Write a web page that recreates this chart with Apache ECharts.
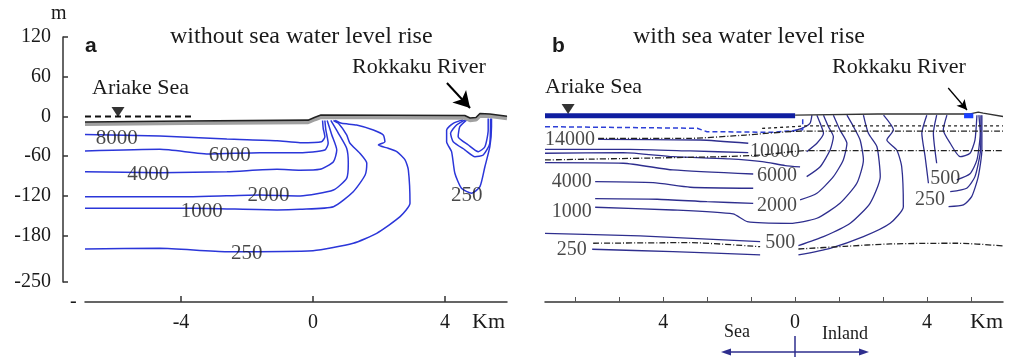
<!DOCTYPE html>
<html><head><meta charset="utf-8">
<script src="https://cdn.jsdelivr.net/npm/echarts@6/dist/echarts.min.js"></script>
<style>html,body{margin:0;padding:0;background:#fff}#c{width:1018px;height:357px}</style>
</head><body><div id="c"></div>
<script>
// ---------- axis ticks ----------
const yTicksA = [120, 60, 0, -60, -120, -180, -250];
const xLabelsA = [-4, 0, 4];
const xLabelsB = [-4, 0, 4];
const xTicksB = [-6.667, -5.333, -4, -2.667, -1.333, 0, 1.333, 2.667, 4, 5.333];

// ---------- panel a : without sea water level rise (km, m) ----------
const aSurface = [[-6.91,-8.3],[-3.82,-6.8],[-0.15,-5.5],[0.06,-1],[0.24,2.3],[4.6,1.5],[4.76,-2.3],[4.94,-1.5],[5.06,4.5],[5.36,3.8],[5.88,0.5]];
const aGround  = [[-6.91,-11.5],[-3.82,-10],[-0.15,-8.7],[0.06,-4.2],[0.24,-0.9],[4.6,-1.7],[4.76,-5.5],[4.94,-4.7],[5.06,1.3],[5.36,0.6],[5.88,-2.7]];
const aSeaLevel = [[-6.91,0],[-3.67,0]];
const a8000 = [[-6.91,-27],[-4.64,-29.4],[-2.61,-34],[-1.09,-36.5],[-0.39,-39.5],[0.26,-38],[0.36,-30.5],[0.31,-17.8],[0.29,-6]];
const a6000 = [[-6.91,-52],[-4.64,-49.5],[-3.12,-56.6],[-1.61,-54.6],[-0.39,-54.6],[0.36,-50.6],[0.46,-40.4],[0.39,-20.4],[0.36,-6]];
const a4000 = [[-6.91,-83.3],[-4.64,-84.8],[-2.61,-83.3],[-1.09,-79.7],[-0.39,-81],[0.21,-79.7],[0.62,-68.2],[0.72,-50.6],[0.57,-27.9],[0.43,-6]];
const a2000 = [[-6.91,-121],[-3.64,-121],[-1.61,-118.5],[-0.39,-120],[0.62,-110.9],[1.02,-93.3],[1.07,-70.6],[1.02,-48],[0.77,-25.4],[0.54,-6]];
const a1000 = [[-6.91,-138.5],[-3.64,-138.5],[-1.09,-141],[-0.39,-140],[0.62,-136.1],[1.22,-113.5],[1.58,-88.3],[1.63,-70.6],[1.42,-55.5],[1.12,-40.4],[1.02,-27.9],[0.77,-10.3],[0.62,-6]];
const a250 = [[-6.91,-200],[-4.64,-198.9],[-2.61,-204],[0,-202.5],[1.22,-191.3],[1.93,-176.3],[2.64,-151.2],[2.94,-131],[2.89,-80.7],[2.79,-65.6],[2.54,-53.1],[2.28,-48],[1.98,-43],[2.18,-38],[2.13,-27.9],[1.83,-20.4],[1.32,-12.8],[0.87,-10.3],[0.67,-6]];
const aBowl250 = [[4.55,-5],[4.25,-10.3],[4.05,-20.4],[4.05,-38],[4.2,-53.1],[4.3,-85.7],[4.5,-108.3],[4.81,-115.9],[5.06,-105.9],[5.21,-75.8],[5.36,-45.6],[5.41,-15.4],[5.41,-3]];
const aBowl2 = [[4.61,-5],[4.35,-12.8],[4.17,-25.4],[4.25,-38],[4.61,-50.6],[4.91,-60.7],[5.16,-58.1],[5.36,-40.4],[5.38,-3]];
const aBowl3 = [[4.66,-5],[4.45,-15.4],[4.40,-30.5],[4.71,-43],[5.01,-53.1],[5.21,-45.6],[5.31,-20.4],[5.31,-3]];
const aLabels = [[-5.95,-32.9,'8000'],[-2.52,-58.1,'6000'],[-4.99,-86.8,'4000'],[-1.35,-119.5,'2000'],[-3.37,-143.7,'1000'],[-2.01,-207.5,'250'],[4.66,-118.5,'250']];
const aTriangle = [[-5.91,6.8]];
const aArrow = [[4.06,50.6],[4.76,12.8]];

// ---------- panel b : with sea water level rise (km, m) ----------
const bSea = [[-7.58,1],[0,1]];
const bSurface = [[0,2],[2.5,3.8],[5.3,3.8],[5.55,6.5],[5.7,5],[6.3,0]];
const bRiver = [[5.12,1],[5.4,1]];
const bBlueDash = [[-7.58,-15.4],[-2.97,-17.8],[-2.67,-22.9],[-0.67,-23.8],[0.15,-20.4],[0.23,-20],[0.23,0]];
const bDotted = [[-1.0,-18],[0.3,-14.3],[6.3,-14.3]];
const bDashDot1 = [[-5.97,-33],[-3.2,-33],[-1.5,-28],[0.2,-22],[6.3,-22]];
const bDashDot2 = [[-7.58,-65.6],[-3.18,-61.6],[-2.27,-60.7],[-1.0,-58],[0.3,-51.6],[6.3,-51.6]];
const bDashDot3 = [[-6.12,-191.3],[-3.18,-190.4],[-1.06,-196.5]];
const bDashDot4 = [[0.10,-200],[1.5,-196],[2.88,-192.4],[4.9,-191.3],[6.3,-195.4]];
const b14000 = [[-5.97,-34.4],[-2.88,-35.5],[-1.42,-40.4]];
const b10000 = [[-7.58,-49.5],[-5.0,-49.5],[-3.18,-52],[-1.42,-54.6]];
const bLine2 = [[-7.58,-55.5],[-5.21,-54.6],[-3.70,-60.7],[-2.0,-64],[-1.0,-68],[-0.3,-74],[0.15,-76]];
const b6000 = [[-7.58,-69.7],[-5.21,-70.6],[-3.70,-80.7],[-1.27,-86.8]];
const b4000 = [[-6.06,-98.4],[-4.30,-99.9],[-3.18,-106.8],[-1.27,-108.3]];
const b2000 = [[-6.06,-124],[-4.18,-124.9],[-2.67,-128.6],[-1.27,-131]];
const b1000 = [[-6.06,-137],[-3.70,-141.1],[-1.88,-147.1],[-1.45,-158.7],[-0.15,-161.2],[0.66,-153.6],[1.36,-131],[1.87,-100.8],[2.07,-65.6],[1.97,-35.5],[1.77,-15.4],[1.57,2]];
const bLine9 = [[-7.58,-176.3],[-4.7,-180.3],[-1.06,-188.9]];
const b250 = [[-6.15,-200.4],[-3.70,-204],[-1.06,-209]];
const bFan0 = [[-0.15,-22.9],[0.2,-17.8],[0.45,-10.3],[0.51,2]];
const bFan1 = [[0.35,-53.1],[0.66,-40.4],[0.86,-25.4],[0.76,-10.3],[0.66,2]];
const bFan2 = [[0.35,-90.8],[0.76,-75.8],[1.06,-50.6],[1.16,-30.5],[1.01,-15.4],[0.86,2]];
const bFan3 = [[0.15,-126],[0.66,-115.9],[1.16,-90.8],[1.46,-65.6],[1.57,-40.4],[1.36,-20.4],[1.16,2]];
const bFan5 = [[0.10,-195],[0.86,-181.4],[1.67,-161.2],[2.27,-131],[2.58,-90.8],[2.48,-45.6],[2.22,-25.4],[2.07,2]];
const bFan6 = [[0.10,-209],[1.06,-198.9],[2.07,-181.4],[2.88,-161.2],[3.28,-136.1],[3.23,-75.8],[3.08,-50.6],[2.78,-35.5],[2.98,-20.4],[2.68,2]];
const bBowl1 = [[3.99,2],[3.84,-25.4],[3.94,-60.7],[4.04,-100.8]];
const bBowl2 = [[4.29,2],[4.19,-25.4],[4.29,-70.6]];
const bBowl3 = [[4.60,2],[4.49,-20.4],[4.70,-40.4],[5.0,-60.7],[5.30,-55.5],[5.45,-35.5],[5.51,2]];
const bBowl4 = [[4.90,-95.8],[5.30,-86.4],[5.51,-65.6],[5.61,-25.4],[5.57,2]];
const bBowl5 = [[4.65,-136.1],[5.10,-133.5],[5.35,-121],[5.55,-90.8],[5.66,-50.6],[5.66,2]];
const bBowl6 = [[4.70,-113.5],[5.20,-108.3],[5.45,-90.8],[5.62,-50],[5.63,2]];
const bLabels = [[-6.82,-35.5,'14000'],[-0.61,-53.1,'10000'],[-0.55,-90,'6000'],[-6.77,-98.4,'4000'],[-0.55,-135,'2000'],[-6.77,-143.7,'1000'],[-0.45,-191.3,'500'],[-6.77,-201.5,'250'],[4.55,-93.3,'500'],[4.09,-125,'250']];
const bTriangle = [[-6.88,11.3]];
const bArrow = [[4.64,43],[5.21,9.8]];

// ---------- build ----------
const SERIF = '"Liberation Serif","Times New Roman",serif';
const SANS = '"Liberation Sans",Arial,sans-serif';
const TXT = '#1a1a1a';
const BLUE_A = '#2b36d9';
const NAVY_B = '#2e2e8e';

function ln(data, g, color, width, type, z, smooth) {
  return {type:'line', xAxisIndex:g, yAxisIndex:g, data:data, symbol:'none', silent:true,
    smooth: smooth === undefined ? 0.2 : smooth, z: z || 2,
    lineStyle:{color:color, width:width, type:type || 'solid'}};
}
function labels(data, g, size) {
  return {type:'scatter', xAxisIndex:g, yAxisIndex:g, data:data, symbolSize:0, silent:true, z:5,
    label:{show:true, position:'inside', formatter:p=>p.value[2], fontFamily:SERIF, fontSize:size, color:TXT}};
}
function arrow(pts, g, size) {
  return {type:'line', xAxisIndex:g, yAxisIndex:g, data:[], symbol:'none', silent:true,
    markLine:{silent:true, symbol:['none','arrow'], symbolSize:size, label:{show:false},
      lineStyle:{color:'#000', width:g===0?2:1.3, type:'solid'},
      data:[[{coord:pts[0]},{coord:pts[1]}]]}};
}
function tri(data, g) {
  return {type:'scatter', xAxisIndex:g, yAxisIndex:g, data:data, symbol:'triangle', symbolRotate:180,
    symbolSize:[13,10], itemStyle:{color:'#000'}, silent:true, z:6};
}

const series = [
  // panel a
  ln(aGround, 0, '#a0a0a0', 4, 'solid', 3, 0),
  ln(aSurface, 0, '#222', 1.6, 'solid', 4, 0),
  ln(aSeaLevel, 0, '#111', 2, [6,4], 3, 0),
  ln(a8000, 0, BLUE_A, 1.5), ln(a6000, 0, BLUE_A, 1.5), ln(a4000, 0, BLUE_A, 1.5),
  ln(a2000, 0, BLUE_A, 1.5), ln(a1000, 0, BLUE_A, 1.5), ln(a250, 0, BLUE_A, 1.5),
  ln(aBowl250, 0, BLUE_A, 1.5), ln(aBowl2, 0, BLUE_A, 1.5), ln(aBowl3, 0, BLUE_A, 1.5),
  labels(aLabels, 0, 21), tri(aTriangle, 0), arrow(aArrow, 0, [14,16]),
  // panel b
  ln(bSea, 2, '#0f1ea0', 5, 'solid', 3, 0),
  ln(bSurface, 2, '#333', 1.3, 'solid', 3, 0),
  ln(bRiver, 2, '#1a40ff', 5, 'solid', 4, 0),
  ln(bBlueDash, 2, '#2d3fd6', 1.5, [5,3], 3, 0),
  ln(bDotted, 2, '#222', 1.3, [3,3], 3, 0),
  ln(bDashDot1, 2, '#222', 1.3, [6,2,1,2], 3, 0.2),
  ln(bDashDot2, 2, '#222', 1.3, [6,2,1,2], 3, 0.2),
  ln(bDashDot3, 2, '#222', 1.3, [6,2,1,2], 3, 0.2),
  ln(bDashDot4, 2, '#222', 1.3, [6,2,1,2], 3, 0.3),
  ln(b14000, 2, NAVY_B, 1.3), ln(b10000, 2, NAVY_B, 1.3), ln(bLine2, 2, NAVY_B, 1.3),
  ln(b6000, 2, NAVY_B, 1.3), ln(b4000, 2, NAVY_B, 1.3), ln(b2000, 2, NAVY_B, 1.3),
  ln(b1000, 2, NAVY_B, 1.3), ln(bLine9, 2, NAVY_B, 1.3), ln(b250, 2, NAVY_B, 1.3),
  ln(bFan0, 2, NAVY_B, 1.3), ln(bFan1, 2, NAVY_B, 1.3), ln(bFan2, 2, NAVY_B, 1.3),
  ln(bFan3, 2, NAVY_B, 1.3), ln(bFan5, 2, NAVY_B, 1.3), ln(bFan6, 2, NAVY_B, 1.3),
  ln(bBowl1, 2, NAVY_B, 1.3), ln(bBowl2, 2, NAVY_B, 1.3), ln(bBowl3, 2, NAVY_B, 1.3),
  ln(bBowl4, 2, NAVY_B, 1.3), ln(bBowl5, 2, NAVY_B, 1.3), ln(bBowl6, 2, NAVY_B, 1.3),
  labels(bLabels, 2, 20), tri(bTriangle, 2), arrow(bArrow, 2, [8,10])
];

const axisText = {fontFamily:SERIF, fontSize:20, color:TXT};
const option = {
  animation:false,
  backgroundColor:'#fff',
  grid:[
    {left:85, top:37, width:422, height:265},
    {left:63, top:37, width:10, height:245},
    {left:545, top:37, width:458, height:265}
  ],
  xAxis:[
    {type:'value', gridIndex:0, min:-6.91, max:5.88, splitLine:{show:false},
     axisLine:{onZero:false, lineStyle:{color:'#333', width:1.5}},
     axisTick:{inside:true, length:6, customValues:xLabelsA, lineStyle:{color:'#333', width:1.5}},
     axisLabel:Object.assign({customValues:xLabelsA, margin:11}, axisText)},
    {type:'value', gridIndex:1, show:false, min:0, max:1},
    {type:'value', gridIndex:2, min:-7.58, max:6.3, splitLine:{show:false},
     axisLine:{onZero:false, lineStyle:{color:'#333', width:1.5}},
     axisTick:{inside:true, length:5, customValues:xTicksB, lineStyle:{color:'#555', width:1}},
     axisLabel:Object.assign({customValues:xLabelsB, margin:11, formatter:v=>String(Math.abs(v))}, axisText)}
  ],
  yAxis:[
    {type:'value', gridIndex:0, show:false, min:-280, max:120},
    {type:'value', gridIndex:1, min:-250, max:120, splitLine:{show:false},
     axisLine:{show:true, onZero:false, lineStyle:{color:'#333', width:1.5}},
     axisTick:{show:true, inside:true, length:5, customValues:yTicksA, lineStyle:{color:'#333', width:1.5}},
     axisLabel:Object.assign({customValues:yTicksA, margin:12}, axisText)},
    {type:'value', gridIndex:2, show:false, min:-280, max:120}
  ],
  series: series,
  graphic:[
    {type:'text', left:51, top:4, style:{text:'m', font:'20px '+SERIF, fill:TXT}},
    {type:'text', left:70, top:292, style:{text:'-', font:'20px '+SERIF, fill:TXT}},
    {type:'text', left:85, top:36, style:{text:'a', font:'bold 21px '+SANS, fill:TXT}},
    {type:'text', left:170, top:25, style:{text:'without sea water level rise', font:'24px '+SERIF, fill:TXT}},
    {type:'text', left:92, top:77, style:{text:'Ariake Sea', font:'22px '+SERIF, fill:TXT}},
    {type:'text', left:352, top:56, style:{text:'Rokkaku River', font:'22px '+SERIF, fill:TXT}},
    {type:'text', left:472, top:311, style:{text:'Km', font:'22px '+SERIF, fill:TXT}},
    {type:'text', left:552, top:36, style:{text:'b', font:'bold 21px '+SANS, fill:TXT}},
    {type:'text', left:633, top:25, style:{text:'with sea water level rise', font:'24px '+SERIF, fill:TXT}},
    {type:'text', left:545, top:76, style:{text:'Ariake Sea', font:'22px '+SERIF, fill:TXT}},
    {type:'text', left:832, top:56, style:{text:'Rokkaku River', font:'22px '+SERIF, fill:TXT}},
    {type:'text', left:970, top:311, style:{text:'Km', font:'22px '+SERIF, fill:TXT}},
    {type:'text', left:724, top:323, style:{text:'Sea', font:'18px '+SERIF, fill:TXT}},
    {type:'text', left:822, top:325, style:{text:'Inland', font:'18px '+SERIF, fill:TXT}},
    {type:'line', shape:{x1:727, y1:352, x2:863, y2:352}, style:{stroke:NAVY_B, lineWidth:1.5}},
    {type:'line', shape:{x1:795, y1:336, x2:795, y2:357}, style:{stroke:NAVY_B, lineWidth:1.5}},
    {type:'polygon', shape:{points:[[721,352],[731,348.5],[731,355.5]]}, style:{fill:NAVY_B}},
    {type:'polygon', shape:{points:[[869,352],[859,348.5],[859,355.5]]}, style:{fill:NAVY_B}}
  ]
};
const chart = echarts.init(document.getElementById('c'), null, {renderer:'canvas'});
chart.setOption(option);
</script></body></html>
